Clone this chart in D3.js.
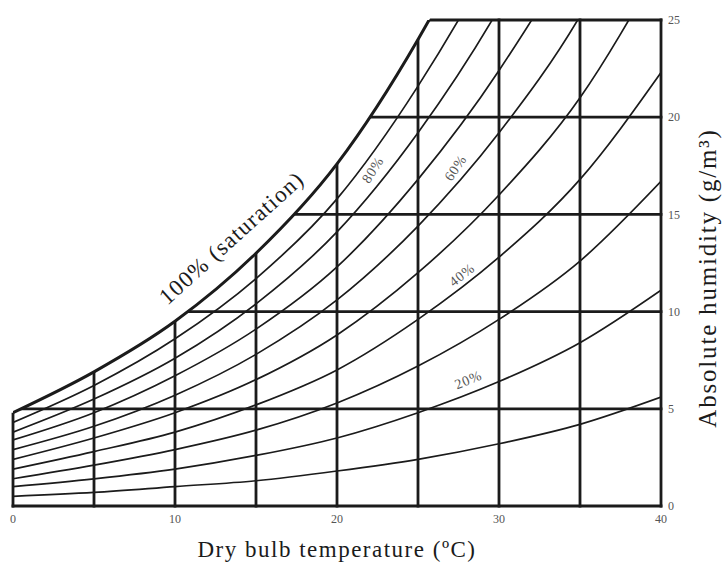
<!DOCTYPE html>
<html>
<head>
<meta charset="utf-8">
<script src="https://cdn.jsdelivr.net/npm/d3@7/dist/d3.min.js"></script>
<style>
  body { margin: 0; background: #fff; }
  text { font-family: "Liberation Serif", "DejaVu Serif", serif; }
</style>
</head>
<body>
<svg id="chart" width="728" height="569"></svg>
<script>
// dry bulb temperature (ºC) where every curve is sampled
var temps = [0, 5, 10, 15, 20, 25, 30, 35, 40];

// absolute humidity (g/m3), one array per relative humidity curve
var rh100 = [4.8, 6.9, 9.5, 13.0, 17.6, 24.0, 32.0, 42.0, 55.7];
var rh90 = [4.3, 6.2, 8.6, 11.7, 15.8, 21.6, 28.8, 37.8, 50.1];
var rh80 = [3.8, 5.5, 7.6, 10.4, 14.1, 19.2, 25.6, 33.6, 44.6];
var rh70 = [3.4, 4.8, 6.7, 9.1, 12.3, 16.8, 22.4, 29.4, 39.0];
var rh60 = [2.9, 4.1, 5.7, 7.8, 10.6, 14.4, 19.2, 25.2, 33.4];
var rh50 = [2.4, 3.5, 4.8, 6.5, 8.8, 12.0, 16.0, 21.0, 27.9];
var rh40 = [1.9, 2.8, 3.8, 5.2, 7.0, 9.6, 12.8, 16.8, 22.3];
var rh30 = [1.4, 2.1, 2.9, 3.9, 5.3, 7.2, 9.6, 12.6, 16.7];
var rh20 = [1.0, 1.4, 1.9, 2.6, 3.5, 4.8, 6.4, 8.4, 11.1];
var rh10 = [0.5, 0.7, 1.0, 1.3, 1.8, 2.4, 3.2, 4.2, 5.6];

var rhCurves = [rh10, rh20, rh30, rh40, rh50, rh60, rh70, rh80, rh90];

// grid and tick values
var gridTemps = [0, 5, 10, 15, 20, 25, 30, 35, 40];
var gridHumidity = [0, 5, 10, 15, 20, 25];
var xTicks = [0, 10, 20, 30, 40];
var yTicks = [0, 5, 10, 15, 20, 25];

// labels written on some of the curves
var curveLabels = ["80%", "60%", "40%", "20%"];
var saturationLabel = "100% (saturation)";
var xTitle = "Dry bulb temperature (ºC)";
var yTitle = "Absolute humidity (g/m³)";

var ink = "#1b1b1b";

var svg = d3.select("#chart");

// scales
var x = d3.scaleLinear().domain([0, 40]).range([13, 661]);
var y = d3.scaleLinear().domain([0, 25]).range([506, 20]);

var line = d3.line()
  .x(function (d, i) { return x(temps[i]); })
  .y(function (d) { return y(d); })
  .curve(d3.curveMonotoneX);

var defs = svg.append("defs");

// clip 1: the plot rectangle (for the thin curves)
defs.append("clipPath").attr("id", "plot")
  .append("rect")
  .attr("x", x(0)).attr("y", y(25))
  .attr("width", x(40) - x(0)).attr("height", y(0) - y(25));

// clip 2: everything under the saturation curve
var under = d3.area()
  .x(function (d, i) { return x(temps[i]); })
  .y0(y(0) + 4)
  .y1(function (d) { return y(d); })
  .curve(d3.curveMonotoneX);
defs.append("clipPath").attr("id", "undersat")
  .append("path")
  .attr("d", under(rh100));

// clip 3: same as 2 but with room for the border lines at 0 and 40 ºC
var gridClip = defs.append("clipPath").attr("id", "gridclip");
gridClip.append("path").attr("d", under(rh100));
gridClip.append("rect")
  .attr("x", x(40)).attr("y", y(25) - 2)
  .attr("width", 3).attr("height", y(0) - y(25) + 6);
gridClip.append("rect")
  .attr("x", x(0) - 3).attr("y", y(rh100[0]))
  .attr("width", 3).attr("height", y(0) - y(rh100[0]) + 4);

// relative humidity curves
svg.append("g").attr("clip-path", "url(#plot)")
  .append("g").attr("clip-path", "url(#undersat)")
  .selectAll(".rh")
  .data(rhCurves)
  .enter()
  .append("path")
  .attr("class", "rh")
  .attr("d", line)
  .attr("fill", "none")
  .attr("stroke", ink)
  .attr("stroke-width", 1.7);

var grid = svg.append("g").attr("clip-path", "url(#gridclip)");

// vertical grid, cut off by the saturation curve
grid.selectAll(".vgrid")
  .data(gridTemps)
  .enter()
  .append("line")
  .attr("x1", function (d) { return x(d); })
  .attr("x2", function (d) { return x(d); })
  .attr("y1", y(0) + 1.4)
  .attr("y2", y(25) - 1.4)
  .attr("stroke", ink)
  .attr("stroke-width", 2.8);

// horizontal grid, starting at the saturation curve
grid.selectAll(".hgrid")
  .data(gridHumidity)
  .enter()
  .append("line")
  .attr("x1", x(0) - 1.4)
  .attr("x2", x(40) + 1.4)
  .attr("y1", function (d) { return y(d); })
  .attr("y2", function (d) { return y(d); })
  .attr("stroke", ink)
  .attr("stroke-width", 2.8);

// saturation curve (100%)
svg.append("g").attr("clip-path", "url(#plot)")
  .append("path")
  .attr("d", line(rh100))
  .attr("fill", "none")
  .attr("stroke", ink)
  .attr("stroke-width", 3);

// labels on the curves
var labelPos = [[22.2, 17.3, -57], [27.3, 17.4, -56], [27.7, 11.9, -38], [28.1, 6.5, -22]];
svg.selectAll(".clabel")
  .data(curveLabels)
  .enter()
  .append("text")
  .attr("transform", function (d, i) {
    var p = labelPos[i];
    return "translate(" + x(p[0]) + "," + y(p[1]) + ") rotate(" + p[2] + ")";
  })
  .attr("text-anchor", "middle")
  .attr("dy", "0.35em")
  .attr("font-size", 14)
  .attr("letter-spacing", 0.8)
  .attr("fill", "#555")
  .attr("stroke", "#fff")
  .attr("stroke-width", 4)
  .attr("paint-order", "stroke")
  .text(function (d) { return d; });

svg.append("text")
  .attr("transform", "translate(" + x(13.8) + "," + y(13.5) + ") rotate(-42)")
  .attr("text-anchor", "middle")
  .attr("font-size", 23)
  .attr("letter-spacing", 1.2)
  .attr("fill", ink)
  .text(saturationLabel);

// tick labels
svg.selectAll(".xtick")
  .data(xTicks)
  .enter()
  .append("text")
  .attr("x", function (d) { return x(d); })
  .attr("y", y(0) + 17)
  .attr("text-anchor", "middle")
  .attr("font-size", 12)
  .attr("fill", "#555")
  .text(function (d) { return d; });

svg.selectAll(".ytick")
  .data(yTicks)
  .enter()
  .append("text")
  .attr("x", x(40) + 7)
  .attr("y", function (d) { return y(d); })
  .attr("dy", "0.35em")
  .attr("font-size", 12)
  .attr("fill", "#555")
  .text(function (d) { return d; });

// axis titles
svg.append("text")
  .attr("x", 337)
  .attr("y", 557)
  .attr("text-anchor", "middle")
  .attr("font-size", 23)
  .attr("letter-spacing", 1.5)
  .attr("fill", ink)
  .text(xTitle);

svg.append("text")
  .attr("transform", "translate(716,278) rotate(-90)")
  .attr("text-anchor", "middle")
  .attr("font-size", 25)
  .attr("letter-spacing", 1.8)
  .attr("fill", ink)
  .text(yTitle);
</script>
</body>
</html>
